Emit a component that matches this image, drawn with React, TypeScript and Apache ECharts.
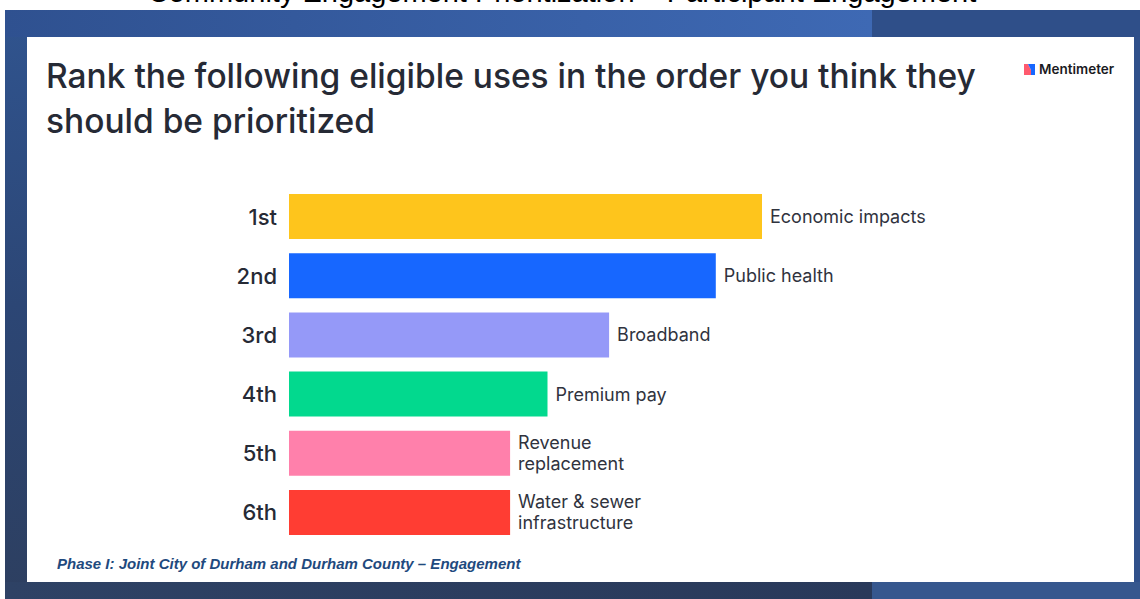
import React, { useEffect, useRef } from "react";
import * as echarts from "echarts";

const ranks = ["1st", "2nd", "3rd", "4th", "5th", "6th"];
const uses = [
  "Economic impacts",
  "Public health",
  "Broadband",
  "Premium pay",
  "Revenue\nreplacement",
  "Water & sewer\ninfrastructure",
];
const scores = [4.3, 3.88, 2.91, 2.35, 2.01, 2.01];
const barColors = ["#FEC51C", "#1767FF", "#9599F8", "#02D98E", "#FF80AB", "#FF3D33"];

const TITLE_1 = "Rank the following eligible uses in the order you think they";
const TITLE_2 = "should be prioritized";
const HEADER = "Community Engagement Prioritization \u2013 Participant Engagement";
const FOOTER = "Phase I: Joint City of Durham and Durham County \u2013 Engagement";

export default function App() {
  const ref = useRef<HTMLDivElement>(null);
  useEffect(() => {
    if (!ref.current) return;
    const chart = echarts.init(ref.current, null, { renderer: "svg" });
    const titleFont = "500 33.5px Inter, sans-serif";
    chart.setOption({
      animation: false,
      graphic: [
        {
          type: "text",
          x: 562,
          y: 6,
          style: {
            text: HEADER,
            font: "29px 'Liberation Sans', Arial, sans-serif",
            fill: "#000",
            align: "center",
            verticalAlign: "bottom",
          },
          z: 0,
        },
        {
          type: "rect",
          shape: { x: 5, y: 10, width: 1135, height: 589 },
          style: {
            fill: {
              type: "linear", x: 0, y: 0, x2: 0, y2: 1,
              colorStops: [
                { offset: 0, color: "#30548f" },
                { offset: 0.5, color: "#2c4675" },
                { offset: 1, color: "#2d3f60" },
              ],
            },
          },
          z: 1,
        },
        {
          type: "rect",
          shape: { x: 5, y: 10, width: 867, height: 27 },
          style: {
            fill: {
              type: "linear", x: 0, y: 0, x2: 1, y2: 0,
              colorStops: [
                { offset: 0, color: "#2f5190" },
                { offset: 1, color: "#3e69b4" },
              ],
            },
          },
          z: 2,
        },
        { type: "rect", shape: { x: 872, y: 10, width: 268, height: 27 }, style: { fill: "#2f4f89" }, z: 2 },
        { type: "rect", shape: { x: 1134, y: 37, width: 6, height: 545 }, style: { fill: "#30508a" }, z: 2 },
        {
          type: "rect",
          shape: { x: 5, y: 582, width: 867, height: 17 },
          style: {
            fill: {
              type: "linear", x: 0, y: 0, x2: 1, y2: 0,
              colorStops: [
                { offset: 0, color: "#2e4265" },
                { offset: 1, color: "#29395a" },
              ],
            },
          },
          z: 2,
        },
        { type: "rect", shape: { x: 872, y: 582, width: 268, height: 17 }, style: { fill: "#36578e" }, z: 2 },
        { type: "rect", shape: { x: 27, y: 37, width: 1107, height: 545 }, style: { fill: "#ffffff" }, z: 3 },
        {
          type: "text",
          x: 46,
          y: 76,
          style: { text: TITLE_1, font: titleFont, fill: "#262a35", verticalAlign: "middle" },
          z: 4,
        },
        {
          type: "text",
          x: 46,
          y: 121,
          style: { text: TITLE_2, font: titleFont, fill: "#262a35", verticalAlign: "middle" },
          z: 4,
        },
        {
          type: "polygon",
          shape: { points: [[1024, 64], [1028, 64], [1031, 70], [1031, 75], [1024, 75]] },
          style: { fill: "#FF5A6E" },
          z: 4,
        },
        {
          type: "polygon",
          shape: { points: [[1031, 64], [1035, 64], [1035, 75], [1031, 75]] },
          style: { fill: "#1767FF" },
          z: 4,
        },
        {
          type: "polygon",
          shape: { points: [[1028, 64], [1031, 64], [1031, 70]] },
          style: { fill: "#1767FF" },
          z: 4,
        },
        {
          type: "text",
          x: 1039,
          y: 62,
          style: { text: "Mentimeter", font: "600 13.5px Inter, sans-serif", fill: "#1a1a22" },
          z: 4,
        },
        {
          type: "text",
          x: 57,
          y: 563,
          style: {
            text: FOOTER,
            font: "italic bold 15px 'Liberation Sans', Arial, sans-serif",
            fill: "#1f4a7e",
            verticalAlign: "middle",
          },
          z: 4,
        },
      ],
      grid: { left: 289, top: 187, width: 660, height: 355, containLabel: false },
      xAxis: { type: "value", min: 0, max: 6, show: false },
      yAxis: {
        type: "category",
        inverse: true,
        data: ranks,
        axisLine: { show: false },
        axisTick: { show: false },
        splitLine: { show: false },
        axisLabel: {
          margin: 12,
          fontSize: 22,
          fontFamily: "Inter, sans-serif",
          fontWeight: 500,
          color: "#262a35",
        },
        z: 10,
      },
      series: [
        {
          type: "bar",
          z: 10,
          barWidth: 45,
          data: scores.map((v, i) => ({ value: v, itemStyle: { color: barColors[i] } })),
          label: {
            show: true,
            position: "right",
            distance: 8,
            fontSize: 18,
            fontFamily: "Inter, sans-serif",
            color: "#30333e",
            lineHeight: 21,
            formatter: (p: any) => uses[p.dataIndex],
          },
        },
      ],
    });
    return () => chart.dispose();
  }, []);
  return (
    <div
      ref={ref}
      style={{ position: "absolute", left: 0, top: 0, width: 1140, height: 599 }}
    />
  );
}
